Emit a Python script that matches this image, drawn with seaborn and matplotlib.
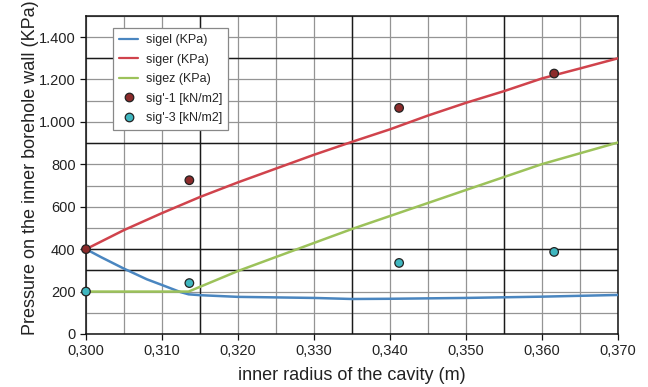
import numpy as np
import pandas as pd
import matplotlib
matplotlib.use("Agg")
import matplotlib.pyplot as plt
import seaborn as sns
from matplotlib.ticker import FuncFormatter, MultipleLocator

# ---- data ----
x_siger = [0.300, 0.305, 0.310, 0.315, 0.320, 0.325, 0.330, 0.335, 0.340, 0.345, 0.350, 0.355, 0.360, 0.365, 0.370]
y_siger = [400, 490, 570, 646, 715, 780, 845, 906, 965, 1030, 1090, 1145, 1205, 1252, 1300]

x_sigel = [0.300, 0.302, 0.305, 0.308, 0.310, 0.3124, 0.3135, 0.315, 0.320, 0.330, 0.335, 0.340, 0.350, 0.360, 0.370]
y_sigel = [400, 362, 308, 258, 231, 198, 187, 183, 175, 170, 165, 166, 170, 176, 184]

x_sigez = [0.300, 0.3135, 0.320, 0.3321, 0.335, 0.350, 0.360, 0.370]
y_sigez = [200, 200, 297, 457, 495, 679, 801, 903]

x_sig1 = [0.300, 0.3136, 0.3412, 0.3616]
y_sig1 = [400, 725, 1066, 1228]

x_sig3 = [0.300, 0.3136, 0.3412, 0.3616]
y_sig3 = [200, 240, 335, 387]

labels = ["sigel (KPa)", "siger (KPa)", "sigez (KPa)", "sig'-1 [kN/m2]", "sig'-3 [kN/m2]"]
line_colors = ["#4a86c0", "#d0434c", "#9cc25a"]
point_colors = ["#8c2b2b", "#3fb6bf"]

lines = pd.concat([
    pd.DataFrame({"x": x_sigel, "y": y_sigel, "series": labels[0]}),
    pd.DataFrame({"x": x_siger, "y": y_siger, "series": labels[1]}),
    pd.DataFrame({"x": x_sigez, "y": y_sigez, "series": labels[2]}),
])
points = pd.concat([
    pd.DataFrame({"x": x_sig1, "y": y_sig1, "series": labels[3]}),
    pd.DataFrame({"x": x_sig3, "y": y_sig3, "series": labels[4]}),
])

sns.set_style("white")
plt.rcParams["font.family"] = ["Liberation Sans", "DejaVu Sans"]

fig = plt.figure(figsize=(6.48, 3.87), dpi=100)
ax = fig.add_axes([0.1327, 0.137, 0.821, 0.822])

# grid
ax.set_xlim(0.300, 0.370)
ax.set_ylim(0, 1500)
ax.xaxis.set_major_locator(MultipleLocator(0.01))
ax.xaxis.set_minor_locator(MultipleLocator(0.005))
ax.yaxis.set_major_locator(MultipleLocator(200))
ax.yaxis.set_minor_locator(MultipleLocator(100))
ax.grid(True, which="both", color="#949494", linewidth=0.9, zorder=0)
for xv in [0.315, 0.335, 0.355]:
    ax.axvline(xv, color="#1a1a1a", linewidth=1.0, zorder=1)
for yv in [300, 400, 900, 1300]:
    ax.axhline(yv, color="#1a1a1a", linewidth=1.0, zorder=1)

sns.lineplot(data=lines, x="x", y="y", hue="series", palette=line_colors,
             linewidth=1.8, ax=ax, sort=False, estimator=None, zorder=3)
sns.scatterplot(data=points, x="x", y="y", hue="series", palette=point_colors,
                s=38, edgecolor="#222222", linewidth=0.9, ax=ax, zorder=4, clip_on=False)

for s in ax.spines.values():
    s.set_color("#111111")
    s.set_linewidth(1.1)

ax.tick_params(axis="both", which="major", direction="out", length=4, width=0.9,
               color="#111111", labelsize=10.5, labelcolor="#222222", left=True, bottom=True)
ax.xaxis.set_major_formatter(FuncFormatter(lambda v, p: f"{v:.3f}".replace(".", ",")))
ax.yaxis.set_major_formatter(FuncFormatter(lambda v, p: f"{int(round(v)):,}".replace(",", ".")))
ax.set_yticks(np.arange(0, 1401, 200))

ax.set_xlabel("inner radius of the cavity (m)", fontsize=13, color="#222222")
ax.set_ylabel("Pressure on the inner borehole wall (KPa)", fontsize=13, color="#222222")
ax.xaxis.set_label_coords(0.5, -0.104)
ax.yaxis.set_label_coords(-0.089, 0.522)

leg = ax.legend(loc="upper left", bbox_to_anchor=(0.051, 0.962), fontsize=9, frameon=True,
                fancybox=False, edgecolor="#888888", framealpha=1, handlelength=1.5,
                handletextpad=0.6, borderpad=0.5, labelspacing=0.6, borderaxespad=0)
leg.get_frame().set_linewidth(0.9)
for h in leg.get_lines():
    h.set_linewidth(1.6)
leg.set_zorder(10)

fig.savefig("out.png", dpi=100)
